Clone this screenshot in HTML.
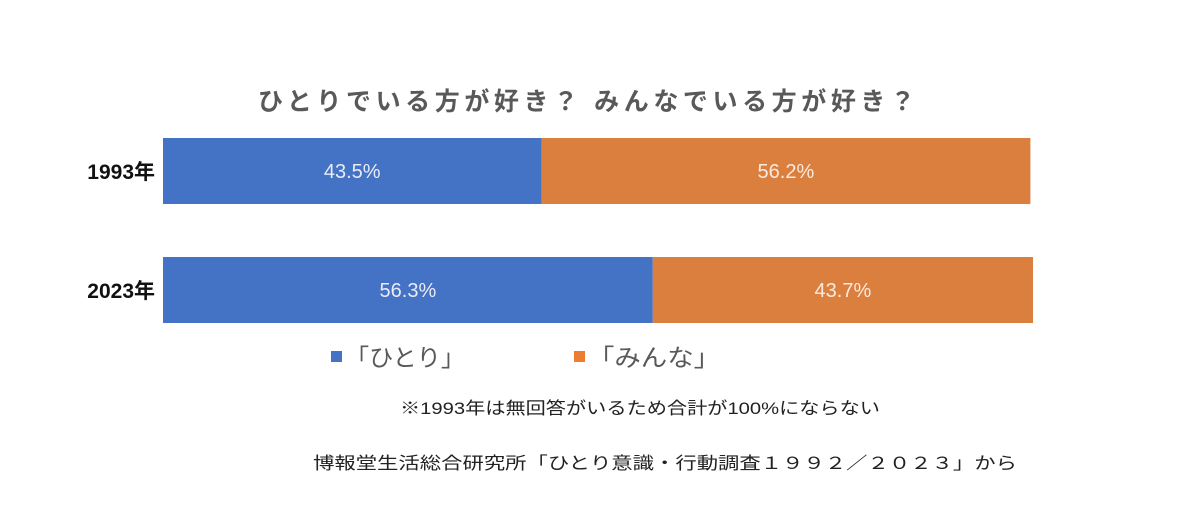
<!DOCTYPE html>
<html><head><meta charset="utf-8"><style>
body{margin:0;background:#fff;}
svg{display:block;font-family:"Liberation Sans","Noto Sans CJK JP",sans-serif;}
</style></head><body>
<svg width="1195" height="507" viewBox="0 0 1195 507">
<text x="258" y="110" font-size="25" font-weight="bold" fill="#595959" textLength="657" lengthAdjust="spacing">ひとりでいる方が好き？ みんなでいる方が好き？</text>
<g id="bars"></g>
<g>
<rect x="331" y="351" width="11" height="11" fill="#4472c4"/>
<text x="345" y="366" font-size="24" fill="#595959" textLength="120" lengthAdjust="spacingAndGlyphs">「ひとり」</text>
<rect x="574" y="351" width="11" height="11" fill="#ed7d31"/>
<text x="588" y="366" font-size="24" fill="#595959" textLength="132" lengthAdjust="spacingAndGlyphs">「みんな」</text>
</g>
<text x="400" y="414" font-size="17" fill="#222" textLength="480" lengthAdjust="spacingAndGlyphs">※1993年は無回答がいるため合計が100%にならない</text>
<text x="313" y="469" font-size="17" fill="#222" textLength="704" lengthAdjust="spacingAndGlyphs">博報堂生活総合研究所「ひとり意識・行動調査１９９２／２０２３」から</text>
</svg>
<script>
const categories = ["1993年", "2023年"];
const hitori = [43.5, 56.3];
const minna = [56.2, 43.7];
const x0 = 163, pxPer = 8.7;
const rowY = [138, 257], barH = 66;
const xs = v => v * pxPer;
const g = document.getElementById('bars');
const NS = 'http://www.w3.org/2000/svg';
function mk(tag, attrs){const e=document.createElementNS(NS,tag);for(const k in attrs)e.setAttribute(k,attrs[k]);return e;}
categories.forEach((c,i)=>{
  const y=rowY[i];
  const lab=mk('text',{x:155,y:y+barH/2+8,'font-size':21,'font-weight':'bold','text-anchor':'end',fill:'#111'});
  lab.textContent=c;
  
  
  g.appendChild(lab);
  const w1=xs(hitori[i]), w2=xs(minna[i]);
  const b1=mk('rect',{x:x0,y:y,width:w1,height:barH,fill:'#4472c4'});
  
  
  g.appendChild(b1);
  const b2=mk('rect',{x:x0+w1,y:y,width:w2,height:barH,fill:'#db7f3f'});
  
  
  g.appendChild(b2);
  const t1=mk('text',{x:x0+w1/2,y:y+barH/2+7,'font-size':20,'text-anchor':'middle',fill:'#e8ecf6'});
  t1.textContent=hitori[i].toFixed(1)+'%';
  
  
  g.appendChild(t1);
  const t2=mk('text',{x:x0+w1+w2/2,y:y+barH/2+7,'font-size':20,'text-anchor':'middle',fill:'#fbeadd'});
  t2.textContent=minna[i].toFixed(1)+'%';
  
  
  g.appendChild(t2);
});
</script>
</body></html>
